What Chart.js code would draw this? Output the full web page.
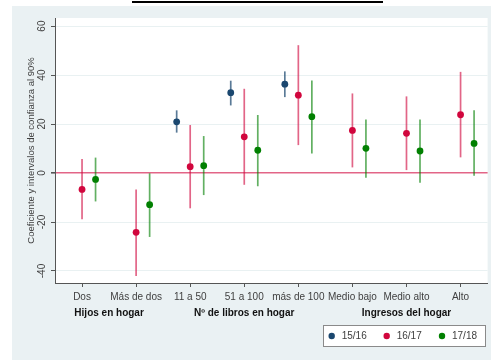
<!DOCTYPE html>
<html>
<head>
<meta charset="utf-8">
<script src="https://cdn.jsdelivr.net/npm/chart.js@4.4.1/dist/chart.umd.min.js"></script>
<style>
  html, body { margin: 0; padding: 0; background: #ffffff; }
  #wrap { width: 491px; height: 360px; }
</style>
</head>
<body>
<div id="wrap"><canvas id="c" width="491" height="360"></canvas></div>
<script>
// Categories on the horizontal axis and the group captions below them
const categories = ['Dos', 'Más de dos', '11 a 50', '51 a 100', 'más de 100', 'Medio bajo', 'Medio alto', 'Alto'];
const groupLabels = ['Hijos en hogar', 'Nº de libros en hogar', 'Ingresos del hogar'];
const groupCenters = [0.5, 3, 6];
const yTicks = [-40, -20, 0, 20, 40, 60];
const seriesNames = ['15/16', '16/17', '17/18'];

// Coefficients with the lower and upper ends of their 90% intervals
const coef1516 = [null, null, 20.9, 32.8, 36.3, null, null, null];
const lo1516   = [null, null, 16.5, 27.6, 31.0, null, null, null];
const hi1516   = [null, null, 25.6, 37.7, 41.5, null, null, null];

const coef1617 = [-6.7, -24.2, 2.6, 14.8, 31.8, 17.4, 16.2, 23.8];
const lo1617   = [-18.9, -42.0, -14.4, -4.8, 11.4, 2.3, 1.2, 6.4];
const hi1617   = [5.7, -6.7, 19.6, 34.4, 52.2, 32.5, 31.3, 41.3];

const coef1718 = [-2.6, -12.9, 3.0, 9.3, 23.0, 10.1, 9.0, 12.1];
const lo1718   = [-11.6, -26.1, -9.0, -5.4, 8.0, -1.9, -4.0, -1.1];
const hi1718   = [6.3, -0.1, 15.1, 23.7, 37.8, 21.9, 21.9, 25.6];

const FONT = '"Liberation Sans", Arial, sans-serif';
const TEXT = '#404040';
const AXIS = '#555555';
const OUTER_BG = '#eaf1f3';
const GRID = '#e9f1f2';

const dotColors  = ['#1a476f', '#d1063d', '#018001'];
const lineColors = ['rgba(26,71,111,0.72)', 'rgba(209,6,61,0.62)', 'rgba(1,128,1,0.62)'];
const offsets = [-0.25, 0, 0.25];

function buildPoints(coef, lo, hi, off) {
  const pts = [];
  coef.forEach((v, i) => {
    if (v !== null) pts.push({ x: i + off, y: v, lo: lo[i], hi: hi[i] });
  });
  return pts;
}

const seriesData = [
  buildPoints(coef1516, lo1516, hi1516, offsets[0]),
  buildPoints(coef1617, lo1617, hi1617, offsets[1]),
  buildPoints(coef1718, lo1718, hi1718, offsets[2])
];

// Page background, plot region and the rule above the chart
const backdrop = {
  id: 'backdrop',
  beforeDraw(chart) {
    const { ctx, chartArea: a } = chart;
    ctx.save();
    ctx.fillStyle = '#ffffff';
    ctx.fillRect(0, 0, chart.width, chart.height);
    ctx.fillStyle = OUTER_BG;
    ctx.fillRect(12, 6, chart.width - 12, chart.height - 6);
    ctx.fillStyle = '#ffffff';
    ctx.fillRect(a.left, a.top, a.right - a.left, a.bottom - a.top);
    ctx.fillStyle = '#000000';
    ctx.fillRect(132, 1, 251, 2);
    ctx.restore();
  }
};

// Vertical interval bars behind the coefficient dots
const intervals = {
  id: 'intervals',
  beforeDatasetsDraw(chart) {
    const { ctx, scales: { x, y } } = chart;
    ctx.save();
    ctx.lineWidth = 1.7;
    chart.data.datasets.forEach((ds, d) => {
      ctx.strokeStyle = lineColors[d];
      ds.data.forEach(p => {
        const px = x.getPixelForValue(p.x);
        ctx.beginPath();
        ctx.moveTo(px, y.getPixelForValue(p.lo));
        ctx.lineTo(px, y.getPixelForValue(p.hi));
        ctx.stroke();
      });
    });
    ctx.restore();
  }
};

// Rotated y tick labels, group captions and the boxed legend
const annotations = {
  id: 'annotations',
  afterDraw(chart) {
    const { ctx, scales: { x, y } } = chart;
    ctx.save();
    ctx.fillStyle = TEXT;
    ctx.font = '10px ' + FONT;
    ctx.textAlign = 'center';
    ctx.textBaseline = 'middle';
    yTicks.forEach(v => {
      ctx.save();
      ctx.translate(42, y.getPixelForValue(v));
      ctx.rotate(-Math.PI / 2);
      ctx.fillText(String(v), 0, 0);
      ctx.restore();
    });

    ctx.fillStyle = '#111111';
    ctx.font = 'bold 10px ' + FONT;
    groupLabels.forEach((t, i) => {
      ctx.fillText(t, x.getPixelForValue(groupCenters[i]), 313.5);
    });

    // legend
    const bx = 323.5, by = 325.5, bw = 162, bh = 21;
    ctx.fillStyle = '#ffffff';
    ctx.fillRect(bx, by, bw, bh);
    ctx.strokeStyle = '#8a8a8a';
    ctx.lineWidth = 1;
    ctx.strokeRect(bx, by, bw, bh);
    const itemX = [331.7, 386.7, 442];
    ctx.font = '10px ' + FONT;
    ctx.textAlign = 'left';
    seriesNames.forEach((name, i) => {
      ctx.fillStyle = dotColors[i];
      ctx.beginPath();
      ctx.arc(itemX[i], by + bh / 2, 3.2, 0, Math.PI * 2);
      ctx.fill();
      ctx.fillStyle = TEXT;
      ctx.fillText(name, itemX[i] + 10, by + bh / 2 + 0.5);
    });
    ctx.restore();
  }
};

new Chart(document.getElementById('c'), {
  type: 'scatter',
  data: {
    datasets: seriesData.map((pts, i) => ({
      label: seriesNames[i],
      data: pts,
      pointRadius: 3.4,
      pointHoverRadius: 3.4,
      pointBackgroundColor: dotColors[i],
      pointBorderWidth: 0,
      showLine: false
    }))
  },
  options: {
    responsive: false,
    animation: false,
    devicePixelRatio: 1,
    events: [],
    layout: { padding: { left: 12, top: 18, right: 2, bottom: 47 } },
    plugins: {
      legend: { display: false },
      tooltip: { enabled: false }
    },
    scales: {
      x: {
        type: 'linear',
        min: -0.5,
        max: 7.5,
        afterBuildTicks: s => { s.ticks = categories.map((_, i) => ({ value: i })); },
        afterFit: s => { s.height = 30; },
        ticks: {
          autoSkip: false,
          maxRotation: 0,
          minRotation: 0,
          padding: 4,
          color: TEXT,
          font: { family: FONT, size: 10 },
          callback: v => categories[v]
        },
        grid: { drawOnChartArea: false, drawTicks: true, tickLength: 4, color: AXIS },
        border: { color: AXIS, width: 1 }
      },
      y: {
        min: -44.9,
        max: 63.3,
        afterBuildTicks: s => { s.ticks = yTicks.map(v => ({ value: v })); },
        afterFit: s => { s.width = 43; },
        ticks: { display: false },
        grid: {
          color: c => (c.tick && c.tick.value === 0 ? 'rgba(209,6,61,0.62)' : GRID),
          lineWidth: c => (c.tick && c.tick.value === 0 ? 1.6 : 1),
          tickColor: AXIS,
          tickLength: 4
        },
        border: { color: AXIS, width: 1 },
        title: {
          display: true,
          text: 'Coeficiente y intervalos de confianza al 90%',
          color: TEXT,
          font: { family: FONT, size: 9.5 },
          padding: { top: 14, bottom: 0 }
        }
      }
    }
  },
  plugins: [backdrop, intervals, annotations]
});
</script>
</body>
</html>
